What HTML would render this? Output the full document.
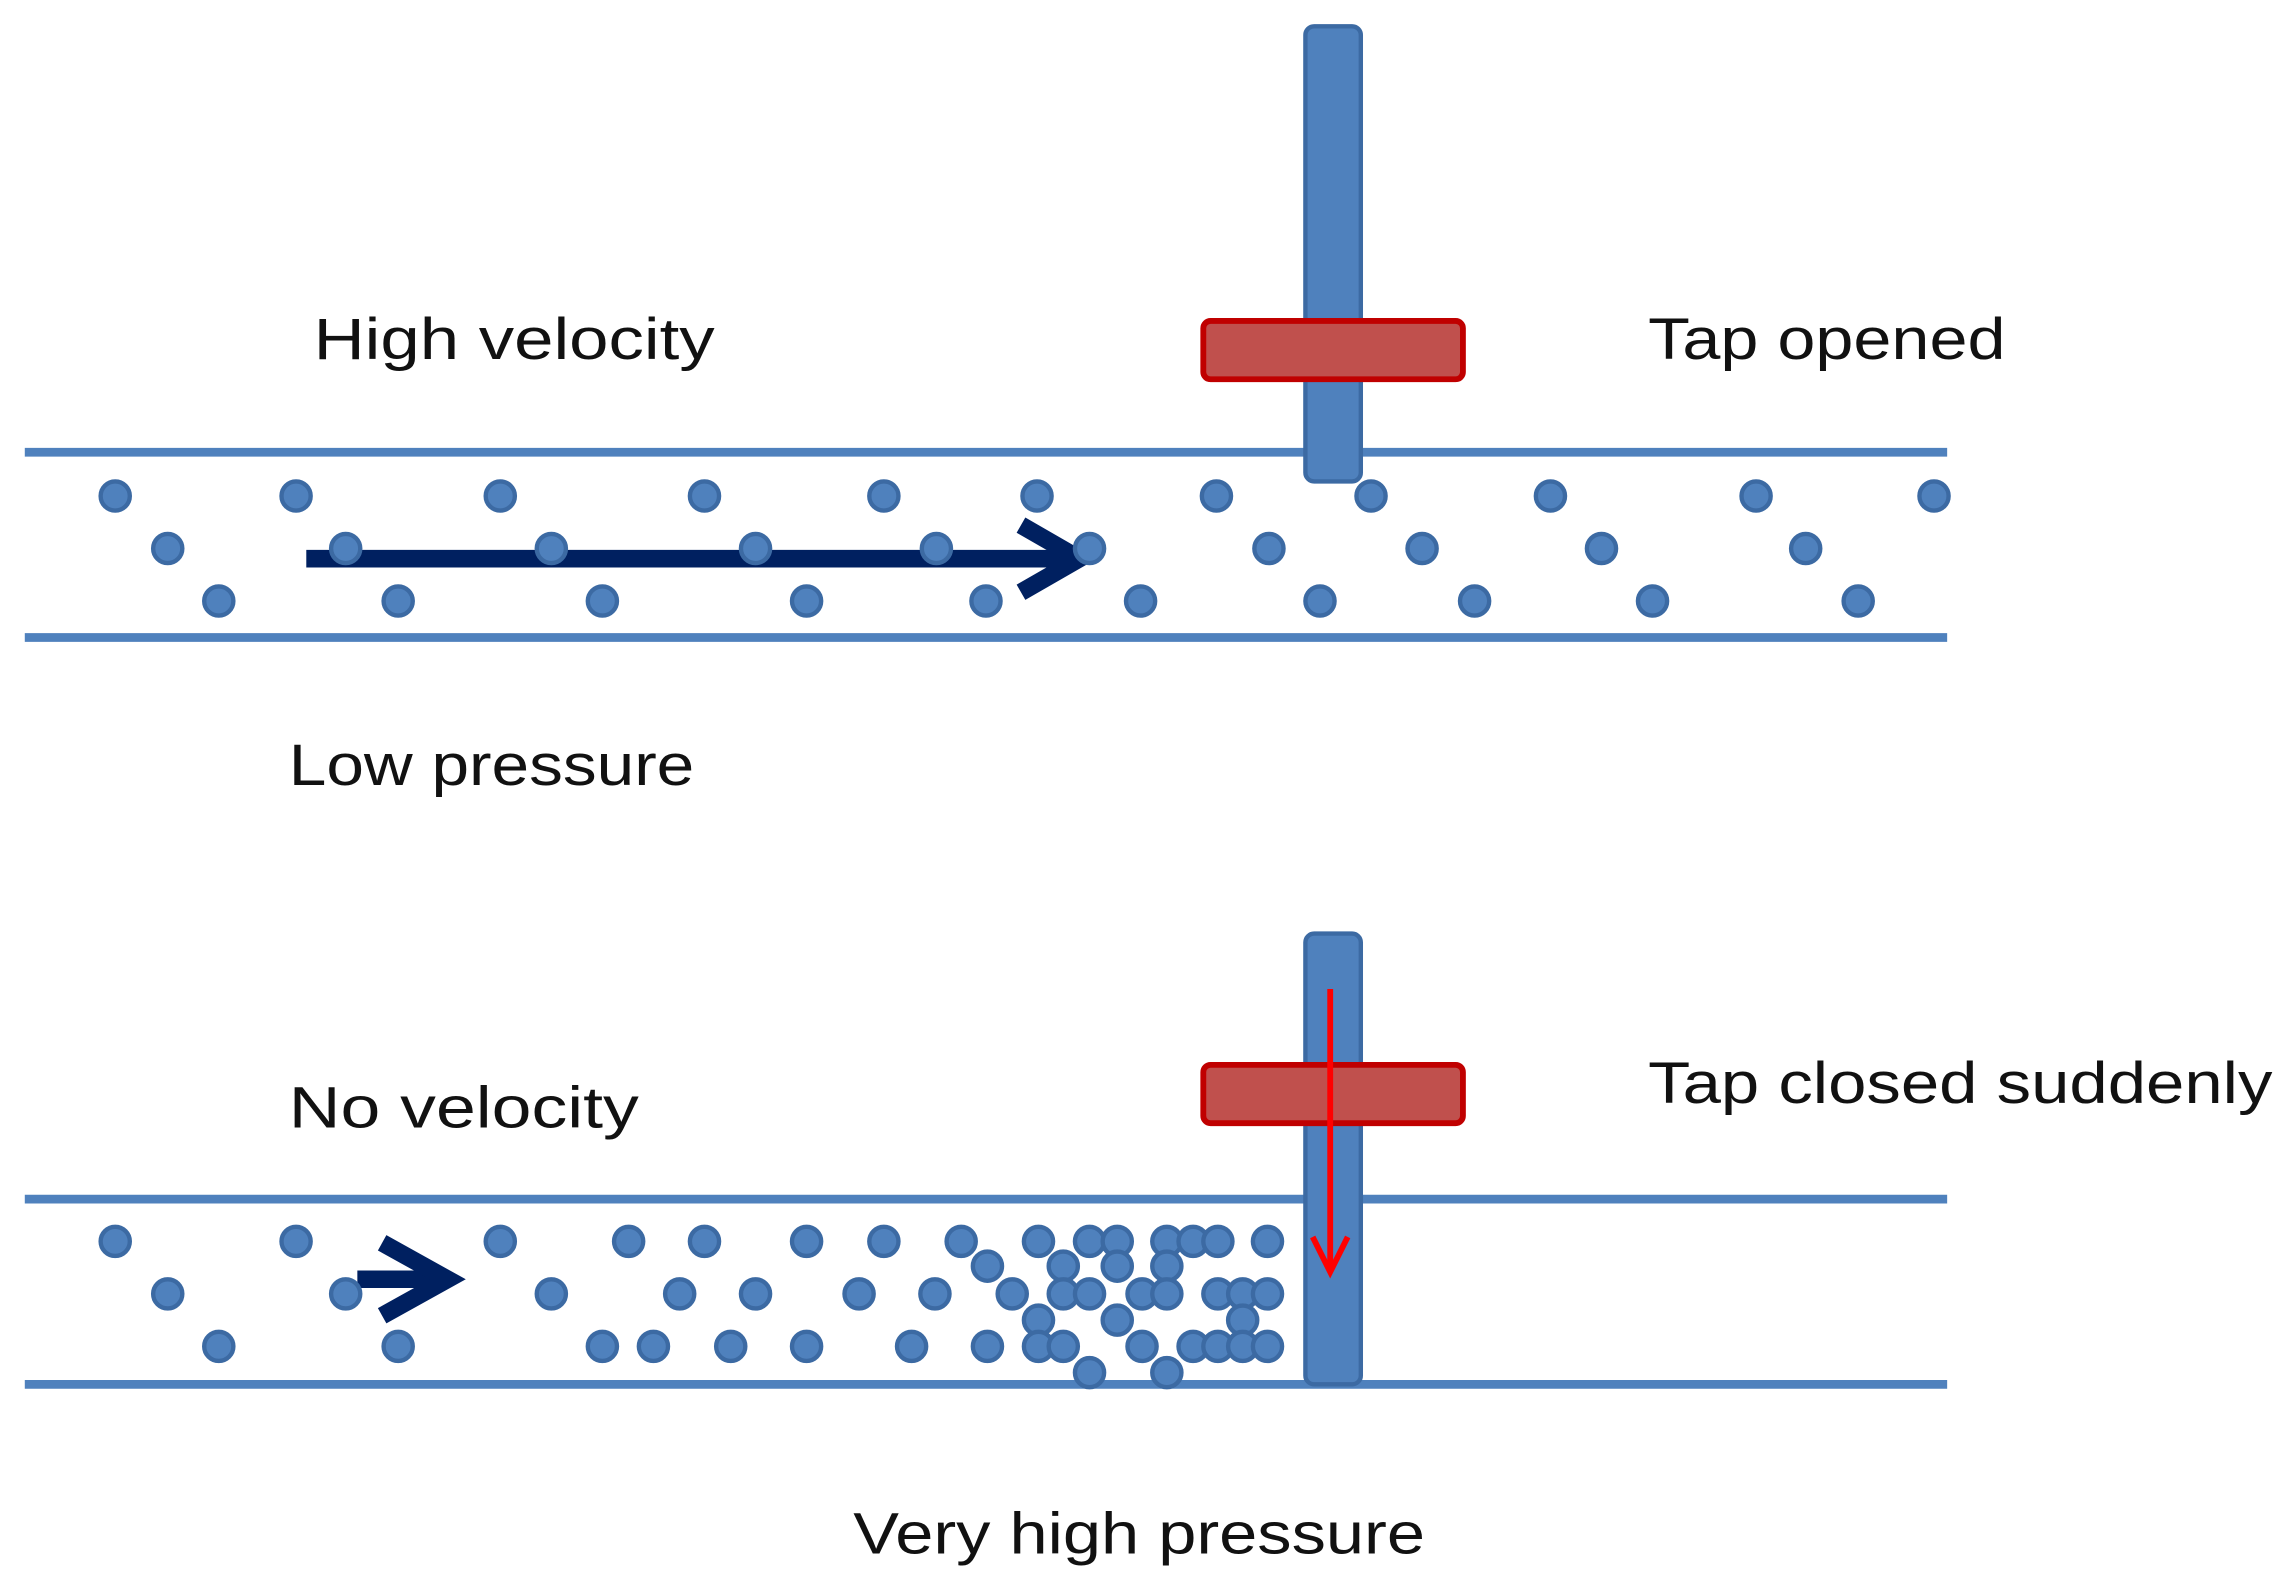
<!DOCTYPE html>
<html><head><meta charset="utf-8"><style>html,body{margin:0;padding:0;background:#fff}svg{display:block}</style></head>
<body>
<svg width="2287" height="1590" viewBox="0 0 1568 1090" preserveAspectRatio="none" xmlns="http://www.w3.org/2000/svg">
<g stroke="#4f81bd" stroke-width="6">
<line x1="17" y1="310" x2="1335" y2="310"/>
<line x1="17" y1="437" x2="1335" y2="437"/>
<line x1="17" y1="822" x2="1335" y2="822"/>
<line x1="17" y1="949" x2="1335" y2="949"/>
</g>
<rect x="895" y="18" width="38" height="312" rx="6" fill="#4f81bd" stroke="#3c6aa3" stroke-width="3"/>
<rect x="825" y="220" width="178" height="40" rx="5" fill="#c0504d" stroke="#c00000" stroke-width="4"/>
<rect x="895" y="640" width="38" height="309" rx="6" fill="#4f81bd" stroke="#3c6aa3" stroke-width="3"/>
<rect x="825" y="730" width="178" height="40" rx="5" fill="#c0504d" stroke="#c00000" stroke-width="4"/>
<g stroke="#ff0000" stroke-width="4" fill="none">
<line x1="912" y1="678" x2="912" y2="872"/>
<polyline points="900,848 912,872 924,848"/>
</g>
<g stroke="#002060" stroke-width="12" fill="none" stroke-linecap="butt">
<line x1="210" y1="383" x2="738" y2="383"/>
<polyline points="700,360 740,383 700,406"/>
<line x1="245" y1="877" x2="305" y2="877"/>
<polyline points="262,852 307,877 262,902"/>
</g>
<g fill="#4f81bd" stroke="#3c6aa3" stroke-width="3">
<!-- top pipe -->
<circle cx="79" cy="340" r="10"/><circle cx="203" cy="340" r="10"/><circle cx="343" cy="340" r="10"/><circle cx="483" cy="340" r="10"/><circle cx="606" cy="340" r="10"/><circle cx="711" cy="340" r="10"/><circle cx="834" cy="340" r="10"/><circle cx="940" cy="340" r="10"/><circle cx="1063" cy="340" r="10"/><circle cx="1204" cy="340" r="10"/><circle cx="1326" cy="340" r="10"/>
<circle cx="115" cy="376" r="10"/><circle cx="237" cy="376" r="10"/><circle cx="378" cy="376" r="10"/><circle cx="518" cy="376" r="10"/><circle cx="642" cy="376" r="10"/><circle cx="747" cy="376" r="10"/><circle cx="870" cy="376" r="10"/><circle cx="975" cy="376" r="10"/><circle cx="1098" cy="376" r="10"/><circle cx="1238" cy="376" r="10"/>
<circle cx="150" cy="412" r="10"/><circle cx="273" cy="412" r="10"/><circle cx="413" cy="412" r="10"/><circle cx="553" cy="412" r="10"/><circle cx="676" cy="412" r="10"/><circle cx="782" cy="412" r="10"/><circle cx="905" cy="412" r="10"/><circle cx="1011" cy="412" r="10"/><circle cx="1133" cy="412" r="10"/><circle cx="1274" cy="412" r="10"/>
<!-- bottom pipe -->
<circle cx="79" cy="851" r="10"/><circle cx="203" cy="851" r="10"/><circle cx="343" cy="851" r="10"/><circle cx="431" cy="851" r="10"/><circle cx="483" cy="851" r="10"/><circle cx="553" cy="851" r="10"/><circle cx="606" cy="851" r="10"/><circle cx="659" cy="851" r="10"/><circle cx="712" cy="851" r="10"/><circle cx="747" cy="851" r="10"/><circle cx="766" cy="851" r="10"/><circle cx="800" cy="851" r="10"/><circle cx="818" cy="851" r="10"/><circle cx="835" cy="851" r="10"/><circle cx="869" cy="851" r="10"/>
<circle cx="677" cy="868" r="10"/><circle cx="729" cy="868" r="10"/><circle cx="766" cy="868" r="10"/><circle cx="800" cy="868" r="10"/>
<circle cx="115" cy="887" r="10"/><circle cx="237" cy="887" r="10"/><circle cx="378" cy="887" r="10"/><circle cx="466" cy="887" r="10"/><circle cx="518" cy="887" r="10"/><circle cx="589" cy="887" r="10"/><circle cx="641" cy="887" r="10"/><circle cx="694" cy="887" r="10"/><circle cx="729" cy="887" r="10"/><circle cx="747" cy="887" r="10"/><circle cx="783" cy="887" r="10"/><circle cx="800" cy="887" r="10"/><circle cx="835" cy="887" r="10"/><circle cx="852" cy="887" r="10"/><circle cx="869" cy="887" r="10"/>
<circle cx="712" cy="905" r="10"/><circle cx="766" cy="905" r="10"/><circle cx="852" cy="905" r="10"/>
<circle cx="150" cy="923" r="10"/><circle cx="273" cy="923" r="10"/><circle cx="413" cy="923" r="10"/><circle cx="448" cy="923" r="10"/><circle cx="501" cy="923" r="10"/><circle cx="553" cy="923" r="10"/><circle cx="625" cy="923" r="10"/><circle cx="677" cy="923" r="10"/><circle cx="712" cy="923" r="10"/><circle cx="729" cy="923" r="10"/><circle cx="783" cy="923" r="10"/><circle cx="818" cy="923" r="10"/><circle cx="835" cy="923" r="10"/><circle cx="852" cy="923" r="10"/><circle cx="869" cy="923" r="10"/>
<circle cx="747" cy="941" r="10"/><circle cx="800" cy="941" r="10"/>
</g>
<g font-family="Liberation Sans, sans-serif" font-size="40" fill="#111">
<text x="215" y="246" textLength="275" lengthAdjust="spacingAndGlyphs">High velocity</text>
<text x="1130" y="246" textLength="245" lengthAdjust="spacingAndGlyphs">Tap opened</text>
<text x="198" y="538" textLength="278" lengthAdjust="spacingAndGlyphs">Low pressure</text>
<text x="198" y="773" textLength="240" lengthAdjust="spacingAndGlyphs">No velocity</text>
<text x="1130" y="756" textLength="428" lengthAdjust="spacingAndGlyphs">Tap closed suddenly</text>
<text x="585" y="1065" textLength="392" lengthAdjust="spacingAndGlyphs">Very high pressure</text>
</g>
</svg>
</body></html>
